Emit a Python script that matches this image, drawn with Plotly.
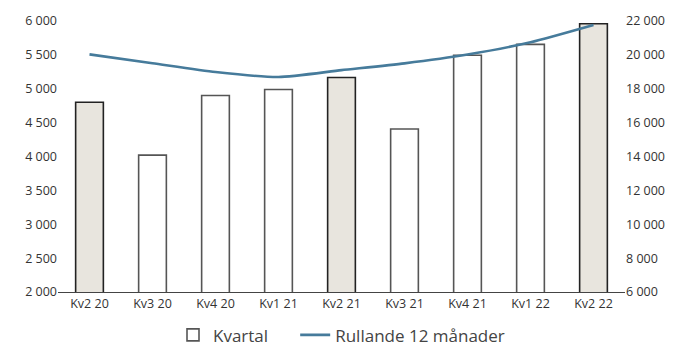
import plotly.graph_objects as go

quarters = ["Kv2 20", "Kv3 20", "Kv4 20", "Kv1 21", "Kv2 21", "Kv3 21", "Kv4 21", "Kv1 22", "Kv2 22"]
quarterly = [4800, 4020, 4900, 4990, 5165, 4405, 5495, 5655, 5960]
rolling_12m = [20030, 19510, 18990, 18690, 19100, 19500, 20020, 20740, 21760]
# Q2 quarters are highlighted with a filled bar
highlight = [q.startswith("Kv2") for q in quarters]

FONT = "Open Sans"
TEXT = "#333333"
LINE_BLUE = "#467B9B"
FILL = "#E8E5DE"
NBSP = "\u00a0"

plain_y = [v if not h else None for v, h in zip(quarterly, highlight)]
hl_y = [v if h else None for v, h in zip(quarterly, highlight)]

fig = go.Figure()
fig.add_trace(go.Bar(
    x=quarters, y=plain_y, name="Kvartal" + NBSP * 5,
    marker=dict(color="white", line=dict(color="#555555", width=1.6)),
    width=0.44,
))
fig.add_trace(go.Bar(
    x=quarters, y=hl_y, name="Kvartal", showlegend=False,
    marker=dict(color=FILL, line=dict(color="#222222", width=1.6)),
    width=0.44,
))
fig.add_trace(go.Scatter(
    x=quarters, y=rolling_12m, name="Rullande 12 månader", yaxis="y2",
    mode="lines", line=dict(color=LINE_BLUE, width=2.6, shape="spline", smoothing=0.6),
))

fig.update_layout(
    width=673, height=347,
    margin=dict(l=58, r=48, t=21, b=55, autoexpand=False),
    paper_bgcolor="white", plot_bgcolor="white",
    barmode="overlay",
    separators=", ",
    font=dict(family=FONT, size=12.5, color=TEXT),
    showlegend=True,
    legend=dict(
        orientation="h", x=0.5, xanchor="center",
        y=-0.16, yanchor="middle",
        font=dict(family=FONT, size=17, color="#444444"),
        itemwidth=30, tracegroupgap=0,
    ),
    xaxis=dict(
        showline=True, linecolor="#444444", linewidth=1.2,
        showgrid=False, ticks="", tickfont=dict(size=12.5, color=TEXT),
        range=[-0.5, 8.5],
    ),
    yaxis=dict(
        range=[2000, 6000], dtick=500, showgrid=False, zeroline=False,
        tickformat=",d", ticks="", tickfont=dict(size=12.5, color=TEXT),
    ),
    yaxis2=dict(
        range=[6000, 22000], dtick=2000, overlaying="y", side="right",
        showgrid=False, zeroline=False, tickformat=",d", ticks="",
        tickfont=dict(size=12.5, color=TEXT),
    ),
)

fig.write_html("out.html")
